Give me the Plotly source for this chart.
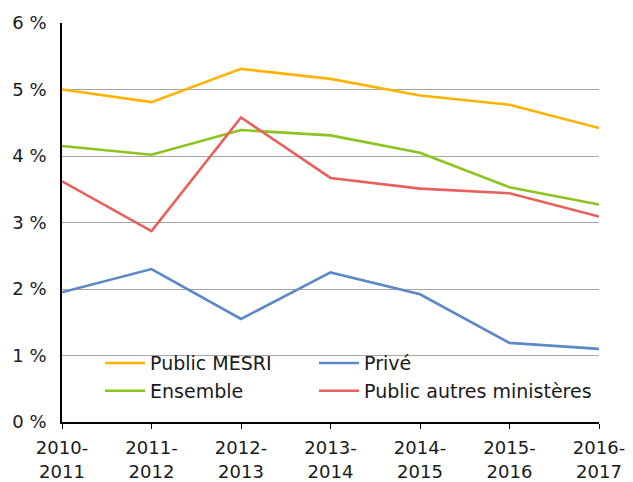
import plotly.graph_objects as go

categories = ["2010-<br>2011", "2011-<br>2012", "2012-<br>2013", "2013-<br>2014",
              "2014-<br>2015", "2015-<br>2016", "2016-<br>2017"]
public_mesri = [5.00, 4.81, 5.31, 5.16, 4.91, 4.77, 4.42]
ensemble = [4.15, 4.02, 4.39, 4.31, 4.05, 3.53, 3.27]
prive = [1.95, 2.30, 1.55, 2.25, 1.92, 1.19, 1.10]
public_autres = [3.62, 2.87, 4.58, 3.67, 3.51, 3.44, 3.09]
y_ticks = [0, 1, 2, 3, 4, 5, 6]
y_tick_labels = ["0 %", "1 %", "2 %", "3 %", "4 %", "5 %", "6 %"]

series = [
    ("Public MESRI", public_mesri, "#ffb300", "legend"),
    ("Ensemble", ensemble, "#8cc31f", "legend"),
    ("Privé", prive, "#5b88c6", "legend2"),
    ("Public autres ministères", public_autres, "#e9605a", "legend2"),
]

fig = go.Figure()
for name, vals, color, leg in series:
    fig.add_trace(go.Scatter(x=categories, y=vals, mode="lines", name=name,
                             legend=leg, line=dict(color=color, width=2.6)))

tick_font = dict(family="DejaVu Sans, sans-serif", size=18, color="#1a1a1a")
leg_font = dict(family="DejaVu Sans, sans-serif", size=19, color="#1a1a1a")
leg_common = dict(orientation="v", yanchor="top", xanchor="left",
                  bgcolor="rgba(0,0,0,0)", font=leg_font, itemwidth=40,
                  traceorder="normal", tracegroupgap=0)
fig.update_layout(
    template="none",
    width=633, height=482,
    # the page body adds an 8px offset; margins compensate for it
    margin=dict(l=54, r=42, t=15, b=68, pad=0),
    paper_bgcolor="white", plot_bgcolor="white",
    font=tick_font,
    showlegend=True,
    legend=dict(x=0.0708, y=0.195, **leg_common),
    legend2=dict(x=0.4693, y=0.195, **leg_common),
    shapes=[dict(type="rect", xref="paper", yref="paper",
                 x0=0.0186, x1=0.702, y0=0.06, y1=0.19,
                 fillcolor="white", line=dict(width=0), layer="between")],
)
fig.update_xaxes(
    type="category", range=[0, 6], showgrid=False, automargin=False,
    showline=True, linecolor="black", linewidth=1.5,
    ticks="outside", ticklen=5, tickcolor="black", tickwidth=1.2,
    ticklabelstandoff=4, tickfont=tick_font, fixedrange=True,
)
fig.update_yaxes(
    range=[0, 6], tickvals=y_ticks, ticktext=y_tick_labels, automargin=False,
    showgrid=True, gridcolor="#a6a6a6", gridwidth=1,
    showline=True, linecolor="black", linewidth=1.5,
    ticks="", ticklabelstandoff=10, tickfont=tick_font, zeroline=False,
)
fig.write_html("out.html")
